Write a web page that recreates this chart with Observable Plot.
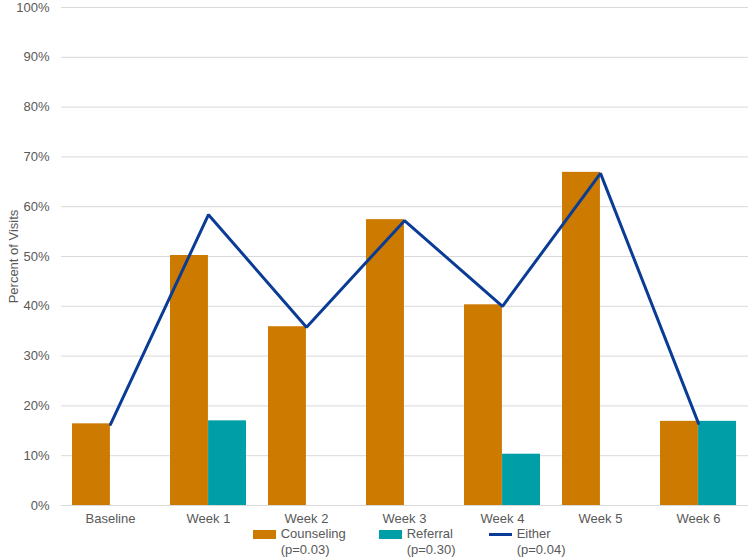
<!DOCTYPE html>
<html>
<head>
<meta charset="utf-8">
<script src="https://cdn.jsdelivr.net/npm/d3@7"></script>
<script src="https://cdn.jsdelivr.net/npm/@observablehq/plot@0.6"></script>
<style>
  html, body { margin: 0; padding: 0; background: #fff; }
  #wrap { position: relative; width: 750px; height: 558px; font-family: "Liberation Sans", Arial, sans-serif; color: #595959; font-size: 13px; }
  .sw { position: absolute; }
  .lt { position: absolute; line-height: 16px; white-space: nowrap; }
</style>
</head>
<body>
<div id="wrap"></div>
<script>
const categories = ["Baseline", "Week 1", "Week 2", "Week 3", "Week 4", "Week 5", "Week 6"];
const counseling = [0.164, 0.502, 0.359, 0.574, 0.403, 0.669, 0.169];
const referral   = [0, 0.170, 0, 0, 0.103, 0, 0.169];
const either     = [0.163, 0.584, 0.358, 0.572, 0.400, 0.667, 0.165];
const yTicks = [0, 0.1, 0.2, 0.3, 0.4, 0.5, 0.6, 0.7, 0.8, 0.9, 1.0];
const seriesNames = ["Counseling", "Referral", "Either"];
const seriesNotes = ["(p=0.03)", "(p=0.30)", "(p=0.04)"];
const colors = ["#CC7A00", "#009EA6", "#0A3C96"];

const rows = categories.map((c, i) => ({cat: c, counseling: counseling[i], referral: referral[i], either: either[i]}));

const W = 750, H = 528, mL = 61, mR = 2, mT = 7, mB = 23;
const pInner = 0.224, pOuter = 0.112;
const step = (W - mL - mR) / (categories.length - pInner + 2 * pOuter);
const bw = step * (1 - pInner);
const half = bw / 2;

const chart = Plot.plot({
  width: W,
  height: H,
  marginLeft: mL,
  marginRight: mR,
  marginTop: mT,
  marginBottom: mB,
  style: {fontFamily: "'Liberation Sans', Arial, sans-serif", fontSize: "13px", color: "#595959", background: "#fff"},
  x: {type: "band", domain: categories, paddingInner: pInner, paddingOuter: pOuter, align: 0.5, label: null},
  y: {domain: [0, 1], label: null},
  marks: [
    Plot.gridY(yTicks, {stroke: "#d9d9d9", strokeOpacity: 1, strokeWidth: 1}),
    Plot.barY(rows, {x: "cat", y: "counseling", fill: colors[0], insetRight: half}),
    Plot.barY(rows.filter(d => d.referral > 0), {x: "cat", y: "referral", fill: colors[1], insetLeft: half}),
    Plot.lineY(rows, {x: "cat", y: "either", stroke: colors[2], strokeWidth: 3, strokeLinejoin: "miter"}),
    Plot.axisY(yTicks, {tickSize: 0, tickPadding: 12, tickFormat: d3.format(".0%"), fill: "#595959", label: "Percent of Visits", labelAnchor: "center", labelArrow: "none", labelOffset: 53}),
    Plot.axisX({tickSize: 0, tickPadding: 8, fill: "#595959", label: null})
  ]
});

const wrap = document.getElementById("wrap");
wrap.appendChild(chart);

// legend below the chart
const legendX = [252.7, 378.7, 488.7];
seriesNames.forEach((name, i) => {
  const sw = document.createElement("div");
  sw.className = "sw";
  if (i < 2) {
    sw.style.cssText = `left:${legendX[i]}px; top:530px; width:23.5px; height:9px; background:${colors[i]};`;
  } else {
    sw.style.cssText = `left:${legendX[i]}px; top:533px; width:23px; height:3px; background:${colors[i]};`;
  }
  wrap.appendChild(sw);
  const t = document.createElement("div");
  t.className = "lt";
  t.style.left = (legendX[i] + 28) + "px";
  t.style.top = "526px";
  t.innerHTML = name + "<br>" + seriesNotes[i];
  wrap.appendChild(t);
});
</script>
</body>
</html>
